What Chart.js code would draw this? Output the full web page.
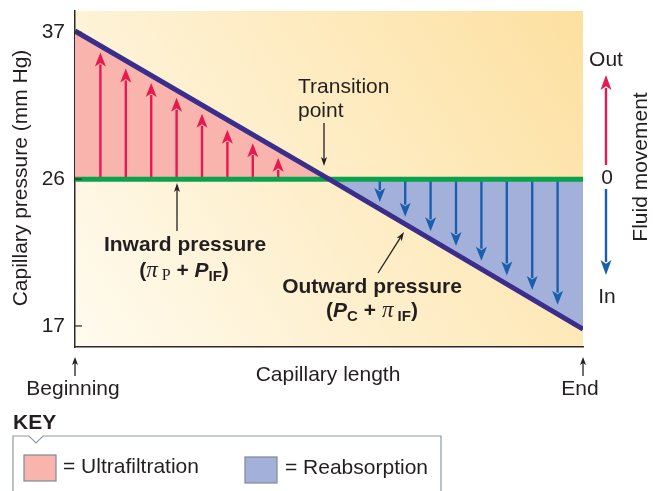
<!DOCTYPE html>
<html>
<head>
<meta charset="utf-8">
<script src="https://cdn.jsdelivr.net/npm/chart.js@4.4.0/dist/chart.umd.min.js"></script>
<style>
  html, body { margin: 0; padding: 0; background: #fff; }
  #wrap { width: 653px; height: 491px; }
</style>
</head>
<body>
<div id="wrap"><canvas id="chart" width="653" height="491"></canvas></div>
<script>
// capillary length in % (beginning -> end)
const lengthPts = [0, 50, 100];
const capPressure = [37.1, 26, 16.8];   // outward pressure line (mm Hg)
const inwardPressure = [26, 26, 26];    // inward pressure line (mm Hg)
const yTicks = [17, 26, 37];

// fluid movement arrows
const outX = [5, 10, 15, 20, 25, 30, 35, 40];
const outTip = [35.5, 34.3, 33.2, 32.1, 30.9, 29.7, 28.7, 27.6];
const inX = [60, 65, 70, 75, 80, 85, 90, 95];
const inTip = [24.6, 23.7, 22.8, 21.9, 21.0, 20.1, 19.2, 18.3];

const PINK = '#f8b4ad';
const BLUE = '#a3b0da';
const SANS = '"Liberation Sans", Arial, Helvetica, sans-serif';
const SERIF = '"Liberation Serif", "Times New Roman", serif';
const FS = 21;

// schematic y axis: the part below 26 is drawn a little taller than the part above
const PIVOT = 26, STRETCH = 1.222;
class StretchScale extends Chart.LinearScale {
  _f(v) { return v < PIVOT ? PIVOT - (PIVOT - v) * STRETCH : v; }
  getPixelForValue(v) {
    const a = this._f(this.min), b = this._f(this.max);
    return this.bottom - (this._f(v) - a) / (b - a) * (this.bottom - this.top);
  }
  getValueForPixel(p) {
    const a = this._f(this.min), b = this._f(this.max);
    const f = a + (this.bottom - p) / (this.bottom - this.top) * (b - a);
    return f < PIVOT ? PIVOT - (PIVOT - f) / STRETCH : f;
  }
}
StretchScale.id = 'stretch';
StretchScale.defaults = Chart.LinearScale.defaults;
Chart.register(StretchScale);

function arrow(ctx, x1, y1, x2, y2, color, lw, hl, hw) {
  const ang = Math.atan2(y2 - y1, x2 - x1);
  const bx = x2 - Math.cos(ang) * hl, by = y2 - Math.sin(ang) * hl;
  ctx.save();
  ctx.strokeStyle = color; ctx.fillStyle = color; ctx.lineWidth = lw;
  ctx.beginPath(); ctx.moveTo(x1, y1); ctx.lineTo(bx + Math.cos(ang) * 2, by + Math.sin(ang) * 2); ctx.stroke();
  const nx = -Math.sin(ang), ny = Math.cos(ang);
  ctx.beginPath();
  ctx.moveTo(x2, y2);
  ctx.lineTo(bx + nx * hw / 2, by + ny * hw / 2);
  ctx.lineTo(bx + Math.cos(ang) * hl * 0.25, by + Math.sin(ang) * hl * 0.25);
  ctx.lineTo(bx - nx * hw / 2, by - ny * hw / 2);
  ctx.closePath(); ctx.fill();
  ctx.restore();
}

function rich(ctx, parts, cx, base) {
  let w = 0;
  parts.forEach(p => { ctx.font = p.font; p.w = ctx.measureText(p.t).width; w += p.w; });
  let x = cx - w / 2;
  ctx.textAlign = 'left'; ctx.textBaseline = 'alphabetic';
  parts.forEach(p => { ctx.font = p.font; ctx.fillText(p.t, x, base + (p.dy || 0)); x += p.w; });
}

const bgPlugin = {
  id: 'bg',
  beforeDraw(chart) {
    const { ctx, chartArea: a } = chart;
    const g = ctx.createLinearGradient(a.left, a.bottom, a.right, a.top);
    g.addColorStop(0, '#fffbef');
    g.addColorStop(1, '#fde0a0');
    ctx.save(); ctx.fillStyle = g;
    ctx.fillRect(a.left, a.top, a.right - a.left, a.bottom - a.top);
    ctx.restore();
  }
};

const arrowsPlugin = {
  id: 'flowArrows',
  beforeDatasetsDraw(chart) {
    const { ctx } = chart;
    const xs = chart.scales.x, ys = chart.scales.y;
    const y0 = ys.getPixelForValue(26);
    outX.forEach((v, i) => {
      const x = xs.getPixelForValue(v);
      arrow(ctx, x, y0, x, ys.getPixelForValue(outTip[i]), '#e8194f', 2.4, 14, 11);
    });
    inX.forEach((v, i) => {
      const x = xs.getPixelForValue(v);
      arrow(ctx, x, y0, x, ys.getPixelForValue(inTip[i]), '#1a5fae', 2.4, 14, 11);
    });
  }
};

const labelsPlugin = {
  id: 'labels',
  afterDraw(chart) {
    const { ctx, chartArea: a } = chart;
    const ys = chart.scales.y;
    const R = FS + 'px ' + SANS;
    ctx.save();
    // small inward tick marks
    ctx.strokeStyle = '#333'; ctx.lineWidth = 1.3;
    yTicks.forEach(v => {
      const y = ys.getPixelForValue(v);
      ctx.beginPath(); ctx.moveTo(a.left, y); ctx.lineTo(a.left + 7, y); ctx.stroke();
    });
    ctx.fillStyle = '#231f20';
    // y title
    ctx.save();
    ctx.translate(21, 178); ctx.rotate(-Math.PI / 2);
    ctx.font = R; ctx.textAlign = 'center'; ctx.textBaseline = 'middle';
    ctx.fillText('Capillary pressure (mm Hg)', 0, 0);
    ctx.restore();
    // right side: fluid movement
    ctx.save();
    ctx.translate(641, 167); ctx.rotate(-Math.PI / 2);
    ctx.font = R; ctx.textAlign = 'center'; ctx.textBaseline = 'middle';
    ctx.fillText('Fluid movement', 0, 0);
    ctx.restore();
    ctx.font = R; ctx.textAlign = 'center'; ctx.textBaseline = 'alphabetic';
    ctx.fillText('Out', 606, 66);
    ctx.fillText('0', 607, 184);
    ctx.fillText('In', 607, 303);
    arrow(ctx, 606, 165, 606, 75, '#e8194f', 2.4, 15, 11);
    arrow(ctx, 606, 189, 606, 275, '#1a5fae', 2.4, 15, 11);
    // x axis texts
    ctx.fillText('Capillary length', 328, 381);
    ctx.fillText('Beginning', 73, 395);
    ctx.fillText('End', 580, 395);
    arrow(ctx, a.left, 376, a.left, 357, '#231f20', 1.3, 8, 6);
    arrow(ctx, a.right, 376, a.right, 357, '#231f20', 1.3, 8, 6);
    // transition point
    ctx.textAlign = 'left';
    ctx.fillText('Transition', 298, 93);
    ctx.fillText('point', 298, 117);
    arrow(ctx, 324, 123, 324, 166, '#231f20', 1.3, 9, 6);
    // inward pressure
    arrow(ctx, 177, 231, 177, 183, '#231f20', 1.3, 9, 6);
    const B = 'bold ' + FS + 'px ' + SANS, BI = 'italic bold ' + FS + 'px ' + SANS, BS = 'bold 15px ' + SANS;
    const PI = 'italic 23px ' + SERIF, PS = '16px ' + SERIF;
    ctx.font = B; ctx.textAlign = 'center';
    ctx.fillText('Inward pressure', 185, 251);
    rich(ctx, [
      { t: '(', font: B }, { t: '\u03c0', font: PI }, { t: ' P', font: PS, dy: 3 },
      { t: ' + ', font: B }, { t: 'P', font: BI }, { t: 'IF', font: BS, dy: 4 }, { t: ')', font: B }
    ], 184, 277);
    // outward pressure
    arrow(ctx, 378, 273, 404, 232, '#231f20', 1.3, 9, 6);
    ctx.font = B; ctx.textAlign = 'center';
    ctx.fillText('Outward pressure', 372, 293);
    rich(ctx, [
      { t: '(', font: B }, { t: 'P', font: BI }, { t: 'C', font: BS, dy: 4 },
      { t: ' + ', font: B }, { t: '\u03c0', font: PI }, { t: ' IF', font: BS, dy: 4 }, { t: ')', font: B }
    ], 372, 317);
    // key
    ctx.textAlign = 'left';
    ctx.font = B;
    ctx.fillText('KEY', 13, 429);
    ctx.strokeStyle = '#8d9ba6'; ctx.lineWidth = 1.2;
    ctx.beginPath();
    ctx.moveTo(13, 495); ctx.lineTo(13, 436); ctx.lineTo(29, 436); ctx.lineTo(36, 443);
    ctx.lineTo(43, 436); ctx.lineTo(441, 436); ctx.lineTo(441, 495);
    ctx.stroke();
    ctx.fillStyle = PINK; ctx.fillRect(24, 455, 32, 26);
    ctx.strokeStyle = '#7d8a94'; ctx.strokeRect(24, 455, 32, 26);
    ctx.fillStyle = BLUE; ctx.fillRect(245, 457, 32, 26);
    ctx.strokeRect(245, 457, 32, 26);
    ctx.fillStyle = '#231f20'; ctx.font = R;
    ctx.fillText('= Ultrafiltration', 63, 473);
    ctx.fillText('= Reabsorption', 285, 474);
    ctx.restore();
  }
};

new Chart(document.getElementById('chart'), {
  type: 'line',
  data: {
    datasets: [
      {
        label: 'Outward pressure',
        data: lengthPts.map((x, i) => ({ x, y: capPressure[i] })),
        borderColor: '#3b2d8c', borderWidth: 5, pointRadius: 0, tension: 0,
        fill: { target: 1, above: PINK, below: BLUE }
      },
      {
        label: 'Inward pressure',
        data: lengthPts.map((x, i) => ({ x, y: inwardPressure[i] })),
        borderColor: '#0ba24c', borderWidth: 5, pointRadius: 0, tension: 0, fill: false
      }
    ]
  },
  options: {
    responsive: false,
    animation: false,
    events: [],
    layout: { padding: { top: 11, right: 70, left: 0, bottom: 0 } },
    scales: {
      x: {
        type: 'linear', min: 0, max: 100,
        ticks: { display: false },
        grid: { display: false, drawTicks: false },
        border: { display: true, color: '#2b2b2b', width: 1.5 },
        afterFit: s => { s.height = 144; s.paddingLeft = 0; s.paddingRight = 0; }
      },
      y: {
        type: 'stretch', min: 15.71, max: 38.6,
        afterBuildTicks: s => { s.ticks = yTicks.map(v => ({ value: v })); },
        ticks: { color: '#231f20', font: { family: SANS, size: FS }, padding: 10 },
        grid: { display: false, drawTicks: false },
        border: { display: true, color: '#2b2b2b', width: 1.5 },
        afterFit: s => { s.width = 75; s.paddingTop = 0; s.paddingBottom = 0; }
      }
    },
    plugins: {
      legend: { display: false },
      tooltip: { enabled: false },
      filler: { drawTime: 'beforeDatasetsDraw' }
    }
  },
  plugins: [bgPlugin, arrowsPlugin, labelsPlugin]
});
</script>
</body>
</html>
